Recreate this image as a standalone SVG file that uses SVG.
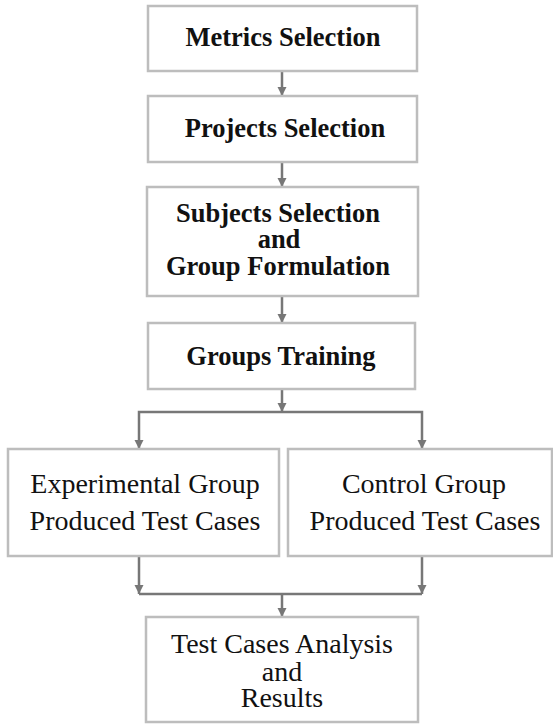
<svg xmlns="http://www.w3.org/2000/svg" width="553" height="726" viewBox="0 0 553 726">
<defs>
<marker id="ah" viewBox="0 0 10 10" refX="10" refY="5" markerWidth="9" markerHeight="10" markerUnits="userSpaceOnUse" orient="auto">
<path d="M0,0 L10,5 L0,10 z" fill="#777"/>
</marker>
<style>
.box{fill:#fff;stroke:#bdbdbd;stroke-width:2.5}
.c{fill:none;stroke:#777;stroke-width:2.5}
.t{font-family:"Liberation Serif","Times New Roman",serif;font-size:28px;fill:#111;text-anchor:middle}
.b{font-weight:bold;font-size:26.5px}
</style>
</defs>
<rect width="553" height="726" fill="#fff"/>
<g id="connectors">
<path class="c" d="M282,71 L282,96" marker-end="url(#ah)"/>
<path class="c" d="M282,162 L282,187" marker-end="url(#ah)"/>
<path class="c" d="M282,296 L282,323" marker-end="url(#ah)"/>
<path class="c" d="M282,389 L282,412" marker-end="url(#ah)"/>
<path class="c" d="M282,412 L139,412 L139,449" marker-end="url(#ah)"/>
<path class="c" d="M282,412 L422,412 L422,449" marker-end="url(#ah)"/>
<path class="c" d="M139,556 L139,594" marker-end="url(#ah)"/>
<path class="c" d="M422,556 L422,594" marker-end="url(#ah)"/>
<path class="c" d="M139,594 L422,594"/>
<path class="c" d="M282,594 L282,617" marker-end="url(#ah)"/>
</g>
<g id="metrics">
<rect class="box" x="148" y="6" width="269" height="65"/>
<text class="t b" x="283" y="46">Metrics Selection</text>
</g>
<g id="projects">
<rect class="box" x="148" y="96" width="269" height="66"/>
<text class="t b" x="285" y="137">Projects Selection</text>
</g>
<g id="subjects">
<rect class="box" x="147" y="187" width="271" height="109"/>
<text class="t b" x="278" y="222">Subjects Selection</text>
<text class="t b" x="279" y="248">and</text>
<text class="t b" x="278" y="275">Group Formulation</text>
</g>
<g id="training">
<rect class="box" x="148" y="323" width="267" height="66"/>
<text class="t b" x="281" y="365">Groups Training</text>
</g>
<g id="experimental">
<rect class="box" x="8" y="449" width="271" height="107"/>
<text class="t" x="145" y="493">Experimental Group</text>
<text class="t" x="145" y="530">Produced Test Cases</text>
</g>
<g id="control">
<rect class="box" x="288" y="449" width="264" height="107"/>
<text class="t" x="424" y="493">Control Group</text>
<text class="t" x="425" y="530">Produced Test Cases</text>
</g>
<g id="analysis">
<rect class="box" x="146" y="617" width="272" height="105"/>
<text class="t" x="282" y="653">Test Cases Analysis</text>
<text class="t" x="282" y="681">and</text>
<text class="t" x="282" y="707">Results</text>
</g>
</svg>
